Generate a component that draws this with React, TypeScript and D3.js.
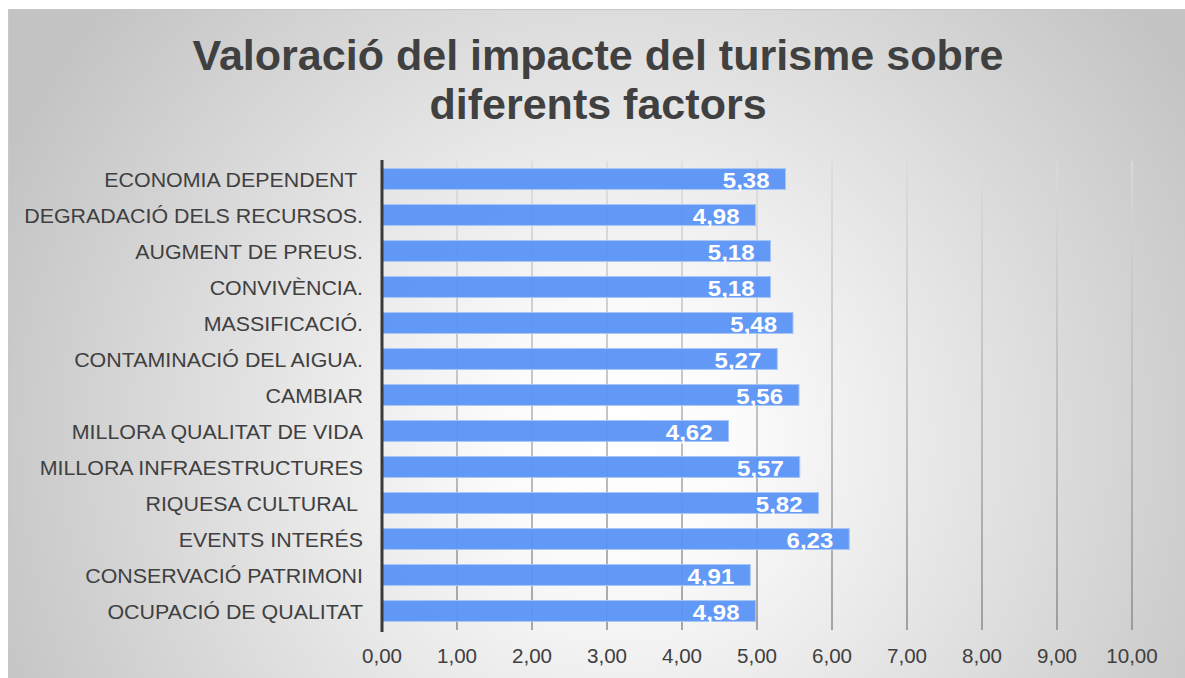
import { useEffect, useRef } from 'react';
import * as d3 from 'd3';

const categories = [
  'ECONOMIA DEPENDENT ',
  'DEGRADACIÓ DELS RECURSOS.',
  'AUGMENT DE PREUS.',
  'CONVIVÈNCIA.',
  'MASSIFICACIÓ.',
  'CONTAMINACIÓ DEL AIGUA.',
  'CAMBIAR',
  'MILLORA QUALITAT DE VIDA',
  'MILLORA INFRAESTRUCTURES',
  'RIQUESA CULTURAL ',
  'EVENTS INTERÉS',
  'CONSERVACIÓ PATRIMONI',
  'OCUPACIÓ DE QUALITAT',
];
const values = [5.38, 4.98, 5.18, 5.18, 5.48, 5.27, 5.56, 4.62, 5.57, 5.82, 6.23, 4.91, 4.98];
const xTicks = [0, 1, 2, 3, 4, 5, 6, 7, 8, 9, 10];
const titleLines = ['Valoració del impacte del turisme sobre', 'diferents factors'];

const W = 1185;
const H = 678;
const FONT = 'Liberation Sans, Arial, sans-serif';
const fmt = (v: number) => v.toFixed(2).replace('.', ',');

export default function App() {
  const ref = useRef<SVGSVGElement>(null);

  useEffect(() => {
    const svg = d3.select(ref.current);
    svg.selectAll('*').remove();

    const x = d3.scaleLinear().domain([0, 10]).range([382, 1132]);
    const y = d3
      .scaleBand()
      .domain(categories)
      .range([161, 629])
      .paddingInner(0.42)
      .paddingOuter(0.21);
    const mid = (c: string) => y(c)! + y.bandwidth() / 2;

    const defs = svg.append('defs');
    const bg = defs
      .append('radialGradient')
      .attr('id', 'bg')
      .attr('gradientUnits', 'userSpaceOnUse')
      .attr('cx', 620)
      .attr('cy', 440)
      .attr('r', 680);
    bg.append('stop').attr('offset', 0).attr('stop-color', '#ffffff');
    bg.append('stop').attr('offset', 0.18).attr('stop-color', '#fbfbfb');
    bg.append('stop').attr('offset', 1).attr('stop-color', '#c3c3c3');

    const gg = defs
      .append('linearGradient')
      .attr('id', 'grid')
      .attr('gradientUnits', 'userSpaceOnUse')
      .attr('x1', 0)
      .attr('y1', 161)
      .attr('x2', 0)
      .attr('y2', 630);
    gg.append('stop').attr('offset', 0).attr('stop-color', '#dcdcdc');
    gg.append('stop').attr('offset', 1).attr('stop-color', '#8a8a8a');

    // background and frame
    svg
      .append('rect')
      .attr('x', 8.5)
      .attr('y', 9.5)
      .attr('width', W - 8)
      .attr('height', H - 9)
      .attr('fill', 'url(#bg)')
      .attr('stroke', '#c8c8c8')
      .attr('stroke-width', 1);

    // title
    svg
      .append('g')
      .selectAll('text')
      .data(titleLines)
      .join('text')
      .attr('transform', (_, i) => `translate(598,${70 + i * 49}) scale(1.025,1)`)
      .attr('text-anchor', 'middle')
      .attr('font-family', FONT)
      .attr('font-weight', 'bold')
      .attr('font-size', 42)
      .attr('fill', '#404040')
      .text(d => d);

    // gridlines
    svg
      .append('g')
      .selectAll('line')
      .data(xTicks.slice(1))
      .join('line')
      .attr('x1', d => x(d))
      .attr('x2', d => x(d))
      .attr('y1', 161)
      .attr('y2', 630)
      .attr('stroke', 'url(#grid)')
      .attr('stroke-width', 1.5);

    // bars
    svg
      .append('g')
      .selectAll('rect')
      .data(values)
      .join('rect')
      .attr('x', x(0))
      .attr('y', (_, i) => y(categories[i])!)
      .attr('width', d => x(d) - x(0))
      .attr('height', y.bandwidth())
      .attr('fill', '#5b94f5')
      .attr('fill-opacity', 0.95)
      .attr('stroke', '#a6c4f7')
      .attr('stroke-width', 1);

    // value labels
    svg
      .append('g')
      .selectAll('text')
      .data(values)
      .join('text')
      .attr('transform', (d, i) => `translate(${x(d) - 16},${mid(categories[i]) + 9}) scale(1.09,1)`)
      .attr('text-anchor', 'end')
      .attr('font-family', FONT)
      .attr('font-weight', 'bold')
      .attr('font-size', 22)
      .attr('fill', '#ffffff')
      .text(d => fmt(d));

    // category labels
    svg
      .append('g')
      .selectAll('text')
      .data(categories)
      .join('text')
      .attr('transform', d => `translate(363,${mid(d) + 8}) scale(1.07,1)`)
      .attr('text-anchor', 'end')
      .attr('font-family', FONT)
      .attr('font-size', 20)
      .attr('fill', '#404040')
      .style('white-space', 'pre')
      .text(d => d);

    // axis line
    svg
      .append('line')
      .attr('x1', x(0))
      .attr('x2', x(0))
      .attr('y1', 160)
      .attr('y2', 632)
      .attr('stroke', '#3a3a3a')
      .attr('stroke-width', 3);

    // tick labels
    svg
      .append('g')
      .selectAll('text')
      .data(xTicks)
      .join('text')
      .attr('transform', d => `translate(${x(d)},663) scale(1.03,1)`)
      .attr('text-anchor', 'middle')
      .attr('font-family', FONT)
      .attr('font-size', 20)
      .attr('fill', '#404040')
      .text(d => fmt(d));
  }, []);

  return (
    <svg
      ref={ref}
      width={W}
      height={H}
      style={{ position: 'absolute', left: 0, top: 0, display: 'block' }}
    />
  );
}
